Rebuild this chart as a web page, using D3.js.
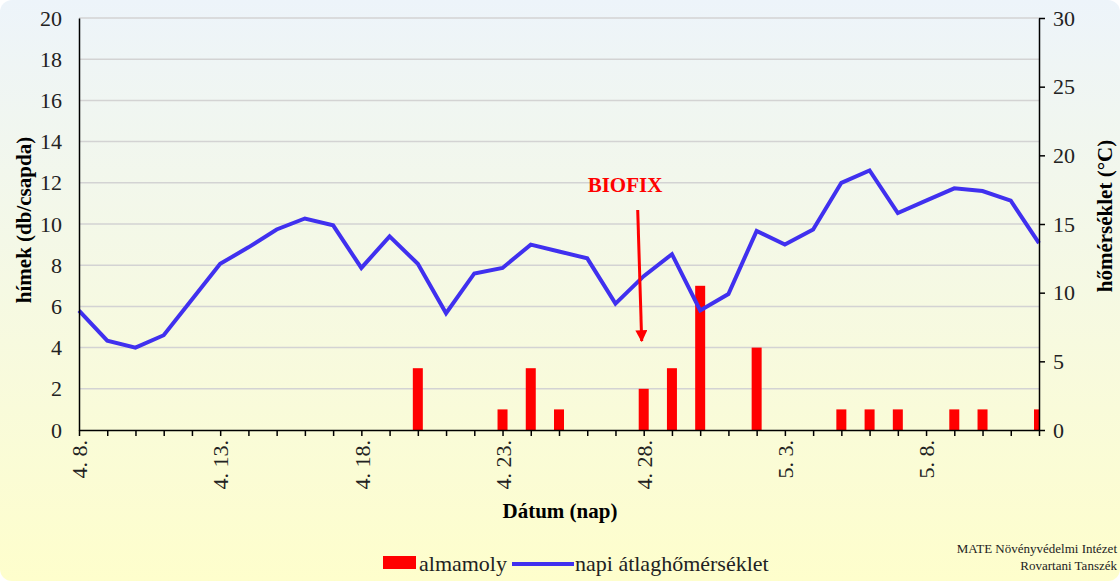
<!DOCTYPE html>
<html>
<head>
<meta charset="utf-8">
<script src="https://cdn.jsdelivr.net/npm/d3@7"></script>
<style>
  body { margin: 0; background: #fff; }
</style>
</head>
<body>
<svg id="chart" width="1120" height="581"></svg>
<script>
// days from 4.8 to 5.12
const dates = [
  "4.8", "4.9", "4.10", "4.11", "4.12", "4.13", "4.14", "4.15", "4.16", "4.17",
  "4.18", "4.19", "4.20", "4.21", "4.22", "4.23", "4.24", "4.25", "4.26", "4.27",
  "4.28", "4.29", "4.30", "5.1", "5.2", "5.3", "5.4", "5.5", "5.6", "5.7",
  "5.8", "5.9", "5.10", "5.11", "5.12"
];

// napi átlaghőmérséklet (°C)
const temps = [
  8.7, 6.5, 6.0, 6.9, 9.5, 12.1, 13.3, 14.6, 15.4, 14.9,
  11.8, 14.1, 12.1, 8.5, 11.4, 11.8, 13.5, 13.0, 12.5, 9.2,
  11.2, 12.8, 8.7, 9.9, 14.5, 13.5, 14.6, 18.0, 18.9, 15.8,
  16.7, 17.6, 17.4, 16.7, 13.6
];

// almamoly fogás (db/csapda)
const counts = [
  0, 0, 0, 0, 0, 0, 0, 0, 0, 0,
  0, 0, 3, 0, 0, 1, 3, 1, 0, 0,
  2, 3, 7, 0, 4, 0, 0, 1, 1, 1,
  0, 1, 1, 0, 1
];

const labeledDates = ["4.8", "4.13", "4.18", "4.23", "4.28", "5.3", "5.8"];
const leftTicks = d3.range(0, 21, 2);
const rightTicks = d3.range(0, 31, 5);

const serif = "Liberation Serif";

const svg = d3.select("#chart");
const W = 1120, H = 581;
const m = { left: 79, right: 1039, top: 18, bottom: 430 };

// background gradient
const defs = svg.append("defs");
const grad = defs.append("linearGradient")
  .attr("id", "bg").attr("x1", 0).attr("y1", 0).attr("x2", 0).attr("y2", 1);
grad.append("stop").attr("offset", "0%").attr("stop-color", "#edf4fa");
grad.append("stop").attr("offset", "100%").attr("stop-color", "#fefecc");

defs.append("clipPath").attr("id", "plotClip")
  .append("rect")
  .attr("x", m.left).attr("y", m.top)
  .attr("width", m.right - m.left).attr("height", m.bottom - m.top);

defs.append("marker")
  .attr("id", "arrowHead")
  .attr("viewBox", "0 0 10 10")
  .attr("refX", 9).attr("refY", 5)
  .attr("markerWidth", 4).attr("markerHeight", 4)
  .attr("orient", "auto")
  .append("path")
  .attr("d", "M0,0 L10,5 L0,10 Z")
  .attr("fill", "#ff0000");

svg.append("rect")
  .attr("x", 0).attr("y", 0).attr("width", W).attr("height", H)
  .attr("rx", 12)
  .attr("fill", "url(#bg)");

const x = d3.scalePoint()
  .domain(dates)
  .range([m.left, m.right]);

const yLeft = d3.scaleLinear().domain([0, 20]).range([m.bottom, m.top]);
const yRight = d3.scaleLinear().domain([0, 30]).range([m.bottom, m.top]);

// gridlines
svg.append("g")
  .selectAll("line")
  .data(leftTicks.filter(d => d > 0))
  .enter()
  .append("line")
  .attr("x1", m.left).attr("x2", m.right)
  .attr("y1", d => yLeft(d)).attr("y2", d => yLeft(d))
  .attr("stroke", "#d3d3d3")
  .attr("stroke-width", 1.5);

// bars
const barW = 10;
svg.append("g")
  .attr("clip-path", "url(#plotClip)")
  .selectAll("rect")
  .data(dates.map((d, i) => ({ date: d, v: counts[i] })).filter(d => d.v > 0))
  .enter()
  .append("rect")
  .attr("x", d => x(d.date) - barW / 2)
  .attr("y", d => yLeft(d.v))
  .attr("width", barW)
  .attr("height", d => yLeft(0) - yLeft(d.v))
  .attr("fill", "#ff0000");

// temperature line
const line = d3.line()
  .x((d, i) => x(dates[i]))
  .y(d => yRight(d));

svg.append("path")
  .datum(temps)
  .attr("d", line)
  .attr("fill", "none")
  .attr("stroke", "#4030ef")
  .attr("stroke-width", 4)
  .attr("stroke-linejoin", "miter");

// left axis
const leftAxis = svg.append("g")
  .attr("transform", `translate(${m.left},0)`)
  .call(d3.axisLeft(yLeft).tickValues(leftTicks).tickSize(0).tickPadding(17));
leftAxis.select(".domain").attr("stroke", "#000").attr("stroke-width", 1.5);
leftAxis.selectAll("text")
  .style("font-family", serif)
  .attr("font-size", 22).attr("fill", "#222");

// right axis
const rightAxis = svg.append("g")
  .attr("transform", `translate(${m.right},0)`)
  .call(d3.axisRight(yRight).tickValues(rightTicks).tickSize(6).tickSizeOuter(0).tickPadding(8));
rightAxis.select(".domain").attr("stroke", "#000").attr("stroke-width", 1.5);
rightAxis.selectAll("line").attr("stroke", "#000").attr("stroke-width", 1.5);
rightAxis.selectAll("text")
  .style("font-family", serif)
  .attr("font-size", 22).attr("fill", "#222");

// x axis
const xAxis = svg.append("g")
  .attr("transform", `translate(0,${m.bottom})`)
  .call(d3.axisBottom(x).tickSize(6).tickSizeOuter(0)
    .tickFormat(d => labeledDates.includes(d) ? d.replace(".", ". ") + "." : ""));
xAxis.select(".domain").attr("stroke", "#000").attr("stroke-width", 1.5);
xAxis.selectAll("line").attr("stroke", "#000").attr("stroke-width", 1.5);
xAxis.selectAll("text")
  .style("font-family", serif)
  .attr("font-size", 22).attr("fill", "#222")
  .attr("transform", "rotate(-90)")
  .attr("text-anchor", "end")
  .attr("x", -10).attr("y", 0).attr("dy", "0.35em");

// axis titles
svg.append("text")
  .attr("transform", "translate(31,220) rotate(-90)")
  .attr("text-anchor", "middle")
  .style("font-family", serif)
  .attr("font-size", 21).attr("font-weight", "bold")
  .text("hímek (db/csapda)");

svg.append("text")
  .attr("transform", "translate(1112,216) rotate(-90)")
  .attr("text-anchor", "middle")
  .style("font-family", serif)
  .attr("font-size", 21).attr("font-weight", "bold")
  .text("hőmérséklet (°C)");

svg.append("text")
  .attr("x", 560).attr("y", 518)
  .attr("text-anchor", "middle")
  .style("font-family", serif)
  .attr("font-size", 21).attr("font-weight", "bold")
  .text("Dátum (nap)");

// BIOFIX annotation
svg.append("text")
  .attr("x", 625).attr("y", 192)
  .attr("text-anchor", "middle")
  .style("font-family", serif)
  .attr("font-size", 21).attr("font-weight", "bold")
  .attr("fill", "#ff0000")
  .text("BIOFIX");

svg.append("line")
  .attr("x1", x("4.28") - 6).attr("y1", 210)
  .attr("x2", x("4.28") - 2).attr("y2", 341)
  .attr("stroke", "#ff0000")
  .attr("stroke-width", 3)
  .attr("marker-end", "url(#arrowHead)");

// legend
const legend = svg.append("g");
legend.append("rect")
  .attr("x", 383).attr("y", 556).attr("width", 33).attr("height", 13)
  .attr("fill", "#ff0000");
legend.append("text")
  .attr("x", 419).attr("y", 571)
  .style("font-family", serif)
  .attr("font-size", 22).attr("fill", "#222")
  .text("almamoly");
legend.append("line")
  .attr("x1", 512).attr("x2", 574).attr("y1", 564).attr("y2", 564)
  .attr("stroke", "#4030ef").attr("stroke-width", 4);
legend.append("text")
  .attr("x", 575).attr("y", 571)
  .style("font-family", serif)
  .attr("font-size", 22).attr("fill", "#222")
  .text("napi átlaghőmérséklet");

// credits
const credit = svg.append("g").attr("text-anchor", "end");
credit.append("text").attr("x", 1117).attr("y", 553)
  .style("font-family", serif).attr("font-size", 13).attr("fill", "#222")
  .text("MATE Növényvédelmi Intézet");
credit.append("text").attr("x", 1117).attr("y", 570)
  .style("font-family", serif).attr("font-size", 13).attr("fill", "#222")
  .text("Rovartani Tanszék");
</script>
</body>
</html>
